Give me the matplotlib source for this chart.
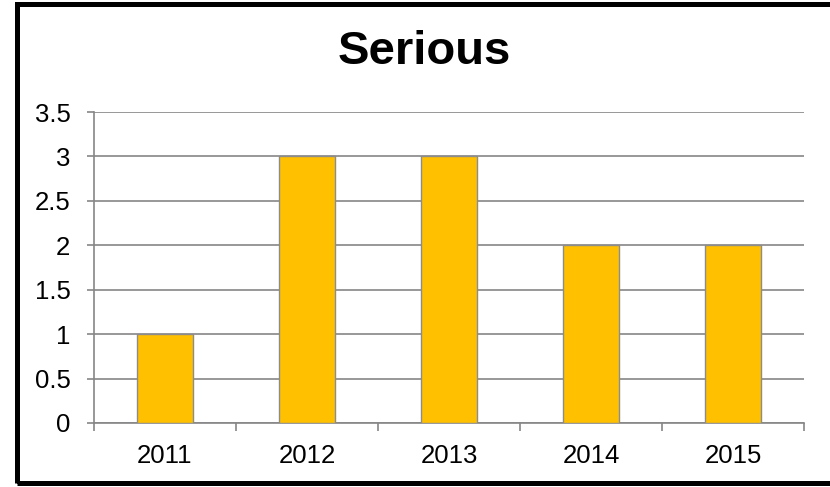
import matplotlib
matplotlib.use('Agg')
import matplotlib.pyplot as plt
from matplotlib.patches import Rectangle
import numpy as np

plt.rcParams['font.family'] = ['Liberation Sans', 'DejaVu Sans']

years = ['2011', '2012', '2013', '2014', '2015']
serious = [1, 3, 3, 2, 2]

bar_colour = '#FFC000'
grid_colour = '#868686'

W, H = 830, 487
fig = plt.figure(figsize=(W / 100, H / 100), dpi=100)
ax = fig.add_axes([94 / W, 1 - 423 / H, (804 - 94) / W, (423 - 112) / H])

x = np.arange(len(years))
ax.bar(x, serious, width=0.4, color=bar_colour, edgecolor='#8c8c8c', linewidth=1.0, zorder=3)

ax.set_xlim(-0.5, len(years) - 0.5)
ax.set_ylim(0, 3.5)
ax.set_yticks(np.arange(0, 3.51, 0.5))
ax.set_yticklabels(['0', '0.5', '1', '1.5', '2', '2.5', '3', '3.5'])
ax.yaxis.grid(True, color=grid_colour, linewidth=1.2, zorder=0)

ax.set_xticks(x)
ax.set_xticklabels(years)
ax.set_xticks(np.arange(-0.5, len(years), 1), minor=True)
ax.tick_params(axis='x', which='major', length=0, pad=15, labelsize=18.5)
ax.tick_params(axis='x', which='minor', length=6, width=1.2, color=grid_colour)
ax.tick_params(axis='y', length=5, width=1.2, color=grid_colour, pad=12, labelsize=18.5)

for side in ['top', 'right']:
    ax.spines[side].set_visible(False)
ax.spines['left'].set_color(grid_colour)
ax.spines['left'].set_linewidth(1.2)
ax.spines['bottom'].set_color(grid_colour)
ax.spines['bottom'].set_linewidth(1.2)

fig.text(424 / W, 1 - 52 / H, 'Serious', ha='center', va='center', fontsize=34, fontweight='bold')

# chart border, runs off the right edge like the original
fig.patches.append(Rectangle((16.5 / W, 1 - 482.5 / H), (840 - 16.5) / W, (482.5 - 3.5) / H,
                             transform=fig.transFigure, fill=False, edgecolor='black', linewidth=3.6))

fig.savefig('out.png', dpi=100)
